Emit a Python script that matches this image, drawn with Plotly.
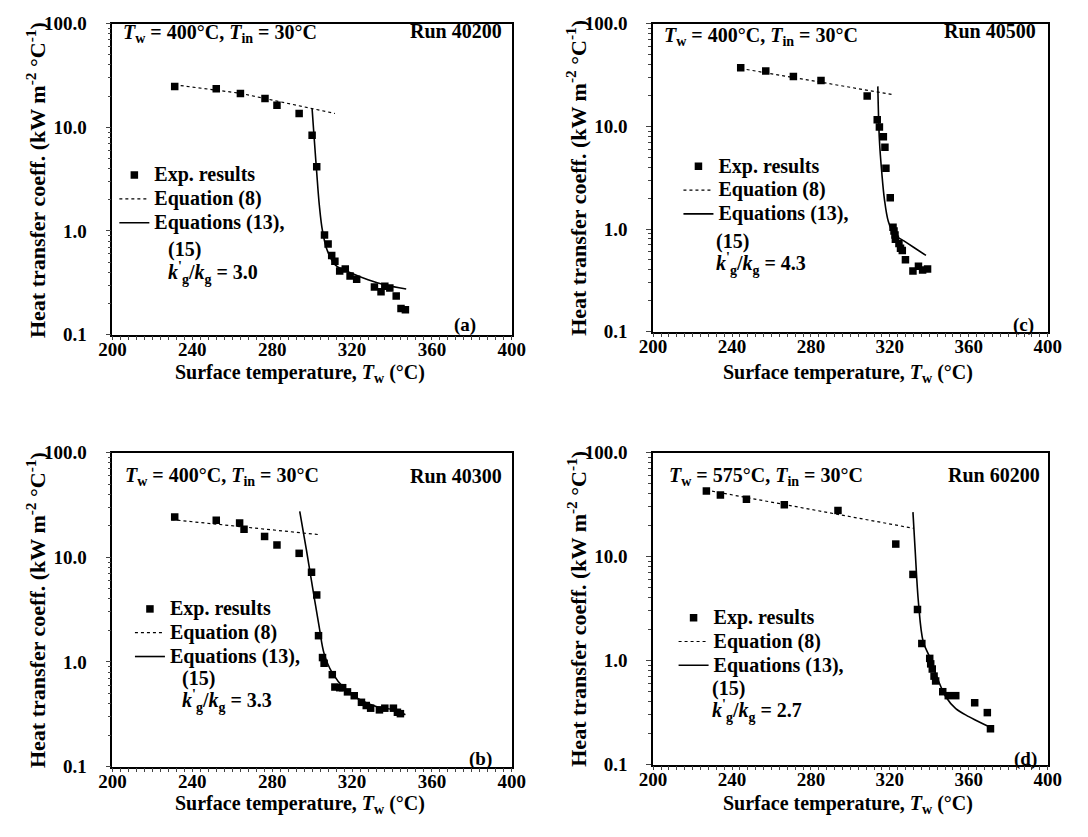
import plotly.graph_objects as go

# ---------------- data ----------------
# Panel (a) Run 40200
a_exp_T = [231.2, 252.0, 264.1, 276.4, 282.4, 293.5, 300.0, 302.3, 306.2, 308.0, 309.8, 311.4,
           313.8, 316.6, 319.0, 322.3, 331.2, 334.5, 336.4, 338.9, 342.1, 344.5, 346.7]
a_exp_h = [24.8, 23.6, 21.2, 19.0, 16.3, 13.6, 8.4, 4.17, 0.915, 0.748, 0.581, 0.51,
           0.41, 0.43, 0.368, 0.343, 0.288, 0.26, 0.293, 0.282, 0.236, 0.179, 0.174]
a_eq8_T = [231.2, 264.1, 311.4]
a_eq8_h = [25.7, 21.3, 13.6]
a_eq13_T = [300.0, 301.1, 302.3, 303.6, 305.2, 307.6, 311.7, 319.8, 328.0, 336.1, 347.1]
a_eq13_h = [15.0, 7.55, 3.66, 1.78, 1.0, 0.647, 0.468, 0.391, 0.338, 0.303, 0.276]

# Panel (c) Run 40500
c_exp_T = [244.4, 257.1, 271.1, 285.1, 308.5, 313.6, 314.7, 316.7, 317.5, 318.0, 320.2, 321.6,
           322.1, 322.6, 322.8, 324.6, 325.4, 326.3, 327.9, 331.7, 334.5, 336.6, 339.1]
c_exp_h = [37.1, 34.5, 30.5, 27.9, 19.7, 11.6, 9.85, 7.9, 6.26, 3.9, 2.02, 1.04,
           0.955, 0.875, 0.796, 0.724, 0.65, 0.617, 0.503, 0.39, 0.435, 0.398, 0.407]
c_eq8_T = [244.4, 321.3]
c_eq8_h = [36.6, 20.4]
c_eq13_T = [313.9, 314.7, 315.9, 317.2, 319.2, 322.1, 327.1, 332.0, 338.3]
c_eq13_h = [24.5, 7.36, 3.55, 1.98, 1.19, 0.889, 0.767, 0.664, 0.553]

# Panel (b) Run 40300
b_exp_T = [231.2, 252.0, 263.7, 265.9, 276.2, 282.4, 293.5, 299.7, 302.3, 303.2, 305.2, 306.0,
           310.1, 311.4, 313.8, 315.3, 317.7, 321.1, 324.7, 327.1, 329.3, 333.7, 336.4, 340.7,
           342.7, 344.2]
b_exp_h = [24.3, 22.6, 21.3, 18.5, 15.8, 13.1, 10.9, 7.19, 4.36, 1.78, 1.10, 0.97,
           0.755, 0.575, 0.567, 0.567, 0.517, 0.475, 0.411, 0.383, 0.361, 0.348, 0.361, 0.361,
           0.33, 0.32]
b_eq8_T = [229.6, 304.1]
b_eq8_h = [22.9, 16.4]
b_eq13_T = [293.8, 297.1, 300.3, 303.6, 306.0, 310.1, 316.6, 324.7, 332.8, 341.0, 346.7]
b_eq13_h = [27.4, 11.9, 5.03, 2.13, 1.20, 0.784, 0.547, 0.427, 0.37, 0.349, 0.313]

# Panel (d) Run 60200
d_exp_T = [227.0, 234.1, 247.3, 266.5, 293.7, 323.0, 331.7, 334.0, 336.2, 340.2, 340.7, 341.5,
           342.4, 343.2, 346.8, 349.6, 353.4, 363.0, 369.4, 371.0]
d_exp_h = [42.8, 39.2, 35.7, 31.6, 27.8, 13.2, 6.74, 3.1, 1.46, 1.05, 0.93, 0.83,
           0.709, 0.637, 0.502, 0.46, 0.46, 0.393, 0.316, 0.221]
d_eq8_T = [226.9, 332.0]
d_eq8_h = [43.6, 18.7]
d_eq13_T = [331.7, 332.8, 334.5, 336.9, 340.2, 344.3, 348.5, 353.4, 360.0, 366.6, 371.5]
d_eq13_h = [26.8, 11.7, 3.6, 1.52, 1.08, 0.66, 0.444, 0.345, 0.289, 0.25, 0.227]

panel_letters = ["(a)", "(c)", "(b)", "(d)"]
run_labels = ["Run 40200", "Run 40500", "Run 40300", "Run 60200"]
wall_temps = ["400", "400", "400", "575"]
k_ratios = ["3.0", "4.3", "3.3", "2.7"]

x_ticks = [200, 240, 280, 320, 360, 400]
y_ticks = [0.1, 1, 10, 100]
y_ticktext = ["0.1", "1.0", "10.0", "100.0"]
y_minor = [m * 10 ** e for e in (-1, 0, 1) for m in range(2, 10)]

# ---------------- layout geometry ----------------
W, H = 1088, 837
FONT = "Liberation Serif"


def px(x):
    return x / W


def py(y):
    return 1 - y / H


def big(s):
    return '<span style="font-size:20px">' + s + '</span>'


panels = [
    dict(xa="x", ya="y", xd=(101, 511), yd=(14, 333), leg="legend",
         exp=(a_exp_T, a_exp_h), eq8=(a_eq8_T, a_eq8_h), eq13=(a_eq13_T, a_eq13_h)),
    dict(xa="x2", ya="y2", xd=(656, 1061), yd=(14, 330), leg="legend2",
         exp=(c_exp_T, c_exp_h), eq8=(c_eq8_T, c_eq8_h), eq13=(c_eq13_T, c_eq13_h)),
    dict(xa="x3", ya="y3", xd=(101, 511), yd=(454, 776), leg="legend3",
         exp=(b_exp_T, b_exp_h), eq8=(b_eq8_T, b_eq8_h), eq13=(b_eq13_T, b_eq13_h)),
    dict(xa="x4", ya="y4", xd=(656, 1061), yd=(454, 774), leg="legend4",
         exp=(d_exp_T, d_exp_h), eq8=(d_eq8_T, d_eq8_h), eq13=(d_eq13_T, d_eq13_h)),
]

fig = go.Figure()
layout = dict(width=W, height=H, margin=dict(l=0, r=0, t=0, b=0),
              paper_bgcolor="white", plot_bgcolor="white",
              font=dict(family=FONT, size=19, color="black", weight="bold"),
              showlegend=True)

annotations = []
leg_pos = [(103, 152), (682, 143), (119, 597), (677, 606)]
# continuation lines of the "Equations (13), (15)" legend entry: (x_left, y_15, y_k)
leg_extra = [(156, 246, 270), (718, 237, 261), (170, 686, 709), (714, 696, 719)]
head_pos = [(110, 9), (665, 12), (112, 464), (670, 464)]
run_pos = [(503, 8), (1051, 8), (503, 465), (1055, 464)]
letter_pos = [(463, 323), (1036, 323), (479, 768), (1038, 768)]
xtitle_pos = [(294, 373), (856, 373), (294, 815), (856, 815)]
ytitle_pos = [(22, 174), (577, 172), (22, 615), (577, 614)]

for i, p in enumerate(panels):
    xs = "" if i == 0 else str(i + 1)
    fig.add_trace(go.Scatter(
        x=p["exp"][0], y=p["exp"][1], mode="markers", name=big("Exp. results"),
        marker=dict(symbol="square", size=7.5, color="black"),
        xaxis=p["xa"], yaxis=p["ya"], legend=p["leg"]))
    fig.add_trace(go.Scatter(
        x=p["eq8"][0], y=p["eq8"][1], mode="lines", name=big("Equation (8)"),
        line=dict(color="black", width=1.2, dash="dot"),
        xaxis=p["xa"], yaxis=p["ya"], legend=p["leg"]))
    fig.add_trace(go.Scatter(
        x=p["eq13"][0], y=p["eq13"][1], mode="lines", line_shape="spline",
        name=big("Equations (13),"),
        line=dict(color="black", width=1.6),
        xaxis=p["xa"], yaxis=p["ya"], legend=p["leg"]))

    layout["xaxis" + xs] = dict(
        domain=[px(p["xd"][0]), px(p["xd"][1])], range=[200, 400], anchor=p["ya"],
        tickvals=x_ticks, ticks="outside", ticklen=4, tickwidth=1.2, ticklabelstandoff=-7,
        showline=True, linecolor="black", linewidth=1.5, mirror=True,
        showgrid=False, zeroline=False, tickfont=dict(size=19),
        minor=dict(dtick=4, tick0=200, ticks="outside", ticklen=4, tickwidth=1, showgrid=False))
    layout["yaxis" + xs] = dict(
        domain=[py(p["yd"][1]), py(p["yd"][0])], type="log", range=[-1, 2], anchor=p["xa"],
        tickmode="array", tickvals=y_ticks, ticktext=y_ticktext,
        ticks="outside", ticklen=5, tickwidth=1.2, ticklabelstandoff=15,
        showline=True, linecolor="black", linewidth=1.5, mirror=True,
        showgrid=False, zeroline=False, tickfont=dict(size=19),
        minor=dict(tickmode="array", tickvals=y_minor, ticks="outside", ticklen=3,
                   tickwidth=1, showgrid=False))
    layout[p["leg"]] = dict(
        x=px(leg_pos[i][0]), y=py(leg_pos[i][1]), xanchor="left", yanchor="top",
        bgcolor="rgba(0,0,0,0)", borderwidth=0, valign="middle",
        font=dict(size=16, family=FONT, weight="bold"), itemwidth=30,
        tracegroupgap=0, itemsizing="trace")

    ex, ey15, eyk = leg_extra[i]
    annotations.append(dict(
        text="(15)", x=px(ex), y=py(ey15), xref="paper", yref="paper",
        xanchor="left", yanchor="middle", showarrow=False, font=dict(size=20)))
    annotations.append(dict(
        text="<i>k</i><sup>'</sup><sub>g</sub>/<i>k</i><sub>g</sub> = " + k_ratios[i],
        x=px(ex), y=py(eyk), xref="paper", yref="paper",
        xanchor="left", yanchor="middle", showarrow=False, font=dict(size=20)))

    annotations.append(dict(
        text="<i>T</i><sub>w</sub> = " + wall_temps[i] + "°C, <i>T</i><sub>in</sub> = 30°C",
        x=px(head_pos[i][0]), y=py(head_pos[i][1]), xref="paper", yref="paper",
        xanchor="left", yanchor="top", showarrow=False, font=dict(size=20)))
    annotations.append(dict(
        text=run_labels[i], x=px(run_pos[i][0]), y=py(run_pos[i][1]), xref="paper", yref="paper",
        xanchor="right", yanchor="top", showarrow=False, font=dict(size=20)))
    annotations.append(dict(
        text=panel_letters[i], x=px(letter_pos[i][0]), y=py(letter_pos[i][1]),
        xref="paper", yref="paper", xanchor="center", yanchor="middle",
        showarrow=False, font=dict(size=19)))
    annotations.append(dict(
        text="Surface temperature, <i>T</i><sub>w</sub> (°C)",
        x=px(xtitle_pos[i][0]), y=py(xtitle_pos[i][1]), xref="paper", yref="paper",
        xanchor="center", yanchor="middle", showarrow=False, font=dict(size=20)))
    annotations.append(dict(
        text="Heat transfer coeff. (kW m<sup>-2</sup> °C<sup>-1</sup>)",
        x=px(ytitle_pos[i][0]), y=py(ytitle_pos[i][1]), xref="paper", yref="paper",
        xanchor="center", yanchor="middle", textangle=-90, showarrow=False,
        font=dict(size=22)))

layout["annotations"] = annotations
fig.update_layout(**layout)
fig.write_html("out.html")
